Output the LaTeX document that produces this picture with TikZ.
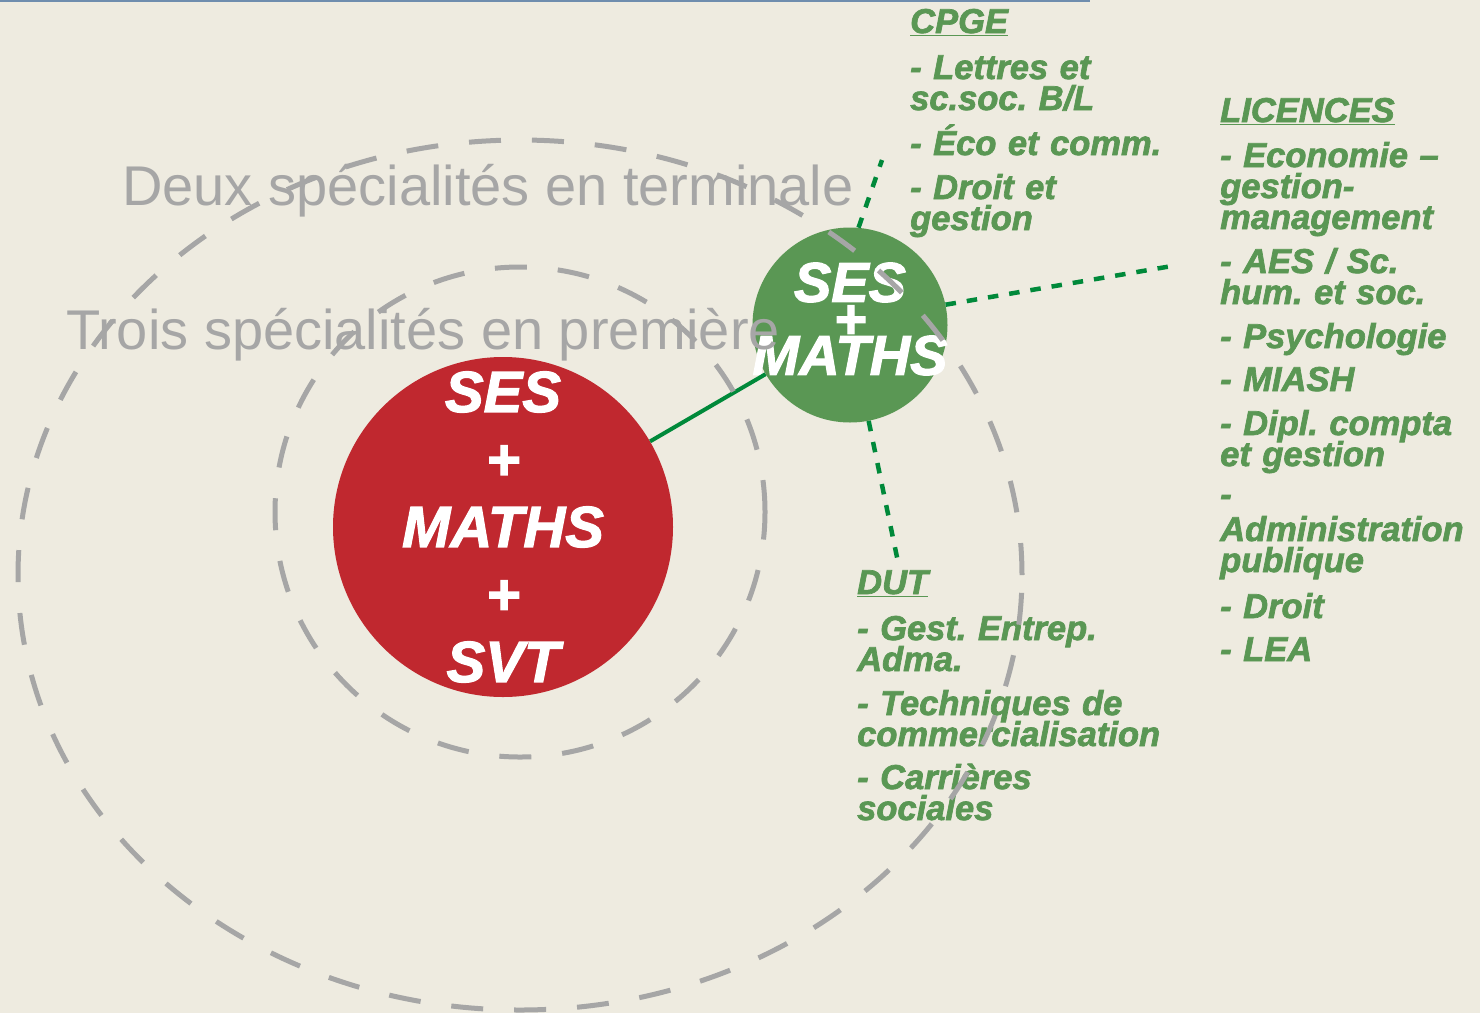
\documentclass[tikz,border=0pt]{standalone}
\usepackage{fontspec}
\setmainfont{Liberation Sans}
\newfontfamily\gras[FakeBold=2]{Liberation Sans}
\usetikzlibrary{positioning}
\definecolor{fond}{HTML}{EEEBE0}
\definecolor{rouge}{HTML}{C0282F}
\definecolor{vert}{HTML}{5A9754}
\definecolor{vertfonce}{HTML}{00893A}
\definecolor{gris}{HTML}{A6A6A6}
\definecolor{bleu}{HTML}{6F8DAE}
\newcommand{\serre}{\lineskiplimit=-40pt\relax}
\frenchspacing

\begin{document}
\begin{tikzpicture}[x=1pt,y=-1pt]
\tikzstyle{rond}=[circle, inner sep=0pt]
\tikzstyle{blanc}=[inner sep=0pt, text=white, align=center]
\tikzstyle{orbite}=[draw=gris, line width=5pt, dash pattern=on 32pt off 31pt]
\tikzstyle{titre}=[anchor=base west, inner sep=0pt, text=gris, font=\fontsize{56}{60}\selectfont]
\tikzstyle{liste}=[anchor=base west, inner sep=0pt, text width=300pt, align=left, text=vert, font=\gras\bfseries\itshape\fontsize{34.5}{31}\selectfont\serre]
\tikzstyle{connect}=[-, line width=4pt, draw=vertfonce]
\tikzstyle{pointe}=[-, line width=4.5pt, draw=vertfonce, dash pattern=on 10.5pt off 11pt]
\fill[fond] (0,0) rectangle (1480,1013);
\useasboundingbox (0,0) rectangle (1480,1013);
\fill[bleu] (0,0) rectangle (1090,2);
\node[rond, fill=rouge, minimum size=340pt] (v1) at (503,527) {};
\node[rond, fill=vert, minimum size=195pt] (v2) at (850,325) {};
\node[blanc, font=\gras\bfseries\itshape\fontsize{58}{67.5}\selectfont\serre] (s1) at (503,527) {SES\\+\\MATHS\\+\\SVT};
\node[blanc, font=\gras\bfseries\itshape\fontsize{56}{36.5}\selectfont\serre] (s2) at (850,319) {SES\\+\\MATHS};
\node[titre] (t1) at (122,205) {Deux spécialités en terminale};
\node[titre] (t2) at (66,349) {Trois spécialités en première};
\node[liste] (cpge) at (910,33) {\underline{CPGE}\\[15pt]- Lettres et\\sc.soc. B/L\\[14pt]- Éco et comm.\\[13pt]- Droit et\\gestion};
\node[liste] (lic) at (1220,122) {\underline{LICENCES}\\[14pt]- Economie –\\gestion-\\management\\[13pt]- AES / Sc.\\hum. et soc.\\[13pt]- Psychologie\\[12pt]- MIASH\\[13pt]- Dipl. compta\\et gestion\\[9pt]-\\[4pt]Administration\\publique\\[15pt]- Droit\\[12pt]- LEA};
\node[liste] (dut) at (857,594) {\underline{DUT}\\[15pt]- Gest. Entrep.\\Adma.\\[13pt]- Techniques de\\commercialisation\\[12pt]- Carrières\\sociales};
\coordinate (c1) at (882,160);
\coordinate (c2) at (1172,266);
\coordinate (c3) at (898,562);
\path (v1) edge [connect] (v2);
\path (v2.85) edge [pointe] (c1);
\path (v2.12) edge [pointe] (c2);
\path (v2.-79) edge [pointe] (c3);
\draw[orbite] (520,575) ellipse [x radius=502pt, y radius=435pt];
\draw[orbite] (520,512) ellipse [x radius=245pt, y radius=245pt];
\end{tikzpicture}
\end{document}
